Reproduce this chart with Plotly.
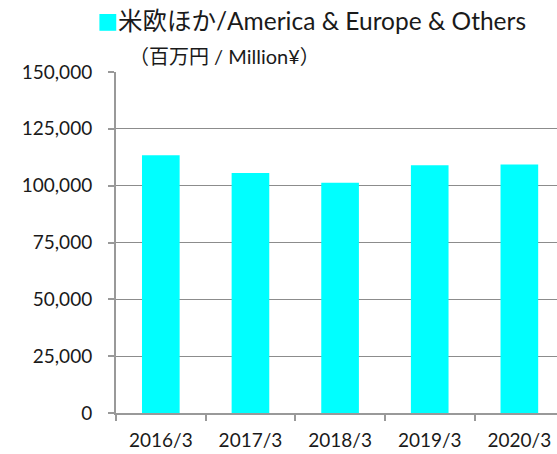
import plotly.graph_objects as go

categories = ["2016/3", "2017/3", "2018/3", "2019/3", "2020/3"]
values = [113400, 105600, 101300, 109000, 109300]
y_ticks = [0, 25000, 50000, 75000, 100000, 125000, 150000]
y_tick_labels = ["0", "25,000", "50,000", "75,000", "100,000", "125,000", "150,000"]
title_text = "米欧ほか/America & Europe & Others"
unit_text = "（百万円 / Million¥）"

font_main = "Lato, 'Noto Sans CJK JP', sans-serif"

# plot area spans x 116..557, y 72..413 in the 557x454 window
W, H = 557, 454
PL, PR, PT, PB = 116, 557, 72, 413

def px(x):
    return (x - PL) / (PR - PL)

def py(y):
    return (PB - y) / (PB - PT)

fig = go.Figure()
fig.add_trace(go.Bar(x=categories, y=values, marker=dict(color="#00FFFF", line=dict(width=0)),
                     width=0.42))

fig.update_layout(
    width=W, height=H,
    margin=dict(l=PL, r=W - PR, t=PT, b=H - PB, autoexpand=False),
    paper_bgcolor="white", plot_bgcolor="white",
    showlegend=False,
    font=dict(family=font_main, color="#1a1a1a"),
    xaxis=dict(type="category", range=[-0.5, 4.42], tickson="boundaries",
               ticks="outside", ticklen=6, tickcolor="#999999", tickwidth=1.5,
               showline=True, linecolor="#999999", linewidth=1.5,
               showgrid=False, tickfont=dict(size=19, color="#1a1a1a"),
               ticklabelstandoff=9, automargin=False),
    yaxis=dict(range=[0, 150000], tickvals=y_ticks, ticktext=y_tick_labels,
               ticks="outside", ticklen=6, tickcolor="#999999", tickwidth=1.5,
               showline=True, linecolor="#999999", linewidth=2,
               showgrid=True, gridcolor="#8c8c8c", gridwidth=1,
               zeroline=False, tickfont=dict(size=19, color="#1a1a1a"),
               ticklabelstandoff=12, automargin=False),
    annotations=[
        dict(text="<span style='color:#00FFFF;font-size:21px'>■</span>" + title_text,
             xref="paper", yref="paper", x=px(95), y=py(21),
             xanchor="left", yanchor="middle", showarrow=False,
             font=dict(size=24.5, color="#1a1a1a", family=font_main)),
        dict(text=unit_text, xref="paper", yref="paper",
             x=px(127), y=py(56),
             xanchor="left", yanchor="middle", showarrow=False,
             font=dict(size=20, color="#1a1a1a", family=font_main)),
    ],
)

fig.write_html(
    "out.html",
    config={"displayModeBar": False},
    post_script="document.body.style.margin='0';document.body.style.overflow='hidden';",
)
